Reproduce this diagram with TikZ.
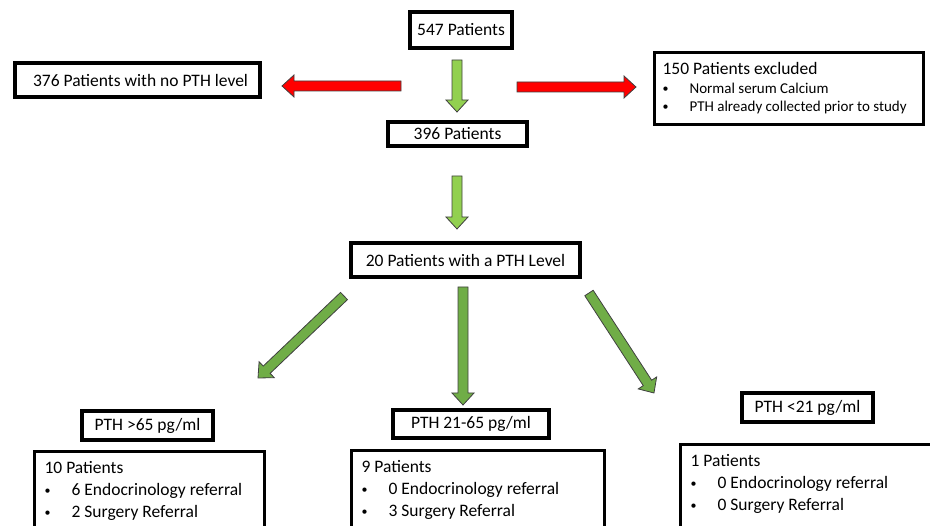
\documentclass[tikz,border=0pt]{standalone}
\usepackage{fontspec}
\setmainfont{Carlito}
\usetikzlibrary{calc}

\definecolor{lightgreen}{RGB}{146,208,80}
\definecolor{midgreen}{RGB}{112,173,71}
\definecolor{brightred}{RGB}{255,0,0}

\tikzset{
  box/.style={draw, line width=3.2pt, inner sep=0pt, font=\fontsize{17.5}{22}\selectfont},
  listbox/.style={box, anchor=north west, inner sep=10pt},
}

\newcommand{\bul}{\makebox[27pt][l]{\raisebox{1pt}{\fontsize{12}{12}\selectfont\textbullet}}}
\newcommand{\blockarrow}[3]{%
  \coordinate (tiphead) at ($(#2)!12pt!(#1)$);
  \filldraw[fill=#3, draw=black!75, line width=0.8pt]
    ($(#1)!5pt!90:(#2)$) -- ($(tiphead)!5pt!90:(#2)$) -- ($(tiphead)!11pt!90:(#2)$) -- (#2)
    -- ($(tiphead)!11pt!-90:(#2)$) -- ($(tiphead)!5pt!-90:(#2)$) -- ($(#1)!5pt!-90:(#2)$) -- cycle;
}

\begin{document}
\begin{tikzpicture}[x=1pt,y=-1pt]
        \useasboundingbox (0,0) rectangle (930,526);
        \clip (0,0) rectangle (930,526);
        \coordinate (s1) at (457,60);
        \coordinate (t1) at (457,112);
        \coordinate (s2) at (401,86);
        \coordinate (t2) at (282,86);
        \coordinate (s3) at (517,87);
        \coordinate (t3) at (636,87);
        \coordinate (s4) at (457,176);
        \coordinate (t4) at (457,229);
        \coordinate (s5) at (344,296);
        \coordinate (t5) at (258,378);
        \coordinate (s6) at (463,287);
        \coordinate (t6) at (463,405);
        \coordinate (s7) at (589,293);
        \coordinate (t7) at (654,393);
        \node[box,minimum width=102pt,minimum height=36pt] (start) at (461,30) {547 Patients};
        \node[box,minimum width=245pt,minimum height=34pt] (nopth) at (137.5,80) {\hspace{6pt}376 Patients with no PTH level};
        \node[listbox,inner xsep=8pt] (excluded) at (653,51) {\parbox{253pt}{\raggedright 150 Patients excluded\\
            \fontsize{15}{18.5}\selectfont\bul Normal serum Calcium\\
            \bul PTH already collected prior to study}};
        \node[box,minimum width=139pt,minimum height=24pt] (eligible) at (457.5,134) {396 Patients};
        \node[box,minimum width=229pt,minimum height=34pt] (withpth) at (465.5,260) {20 Patients with a PTH Level};
        \node[box,minimum width=131pt,minimum height=29pt] (high) at (147.5,425.5) {PTH >65 pg/ml};
        \node[box,minimum width=156pt,minimum height=28pt] (normal) at (471,424) {PTH 21-65 pg/ml};
        \node[box,minimum width=131pt,minimum height=29pt] (low) at (807.5,407.5) {PTH <21 pg/ml};
        \node[listbox] (highinfo) at (33,450) {\parbox[t][110pt][t]{210pt}{10 Patients\\
            \bul 6 Endocrinology referral\\ \bul 2 Surgery Referral}};
        \node[listbox] (normalinfo) at (350,449) {\parbox[t][110pt][t]{233pt}{9 Patients\\
            \bul 0 Endocrinology referral\\ \bul 3 Surgery Referral}};
        \node[listbox] (lowinfo) at (679,443) {\parbox[t][110pt][t]{250pt}{1 Patients\\
            \bul 0 Endocrinology referral\\ \bul 0 Surgery Referral}};
        \blockarrow{s1}{t1}{lightgreen}
        \blockarrow{s2}{t2}{brightred}
        \blockarrow{s3}{t3}{brightred}
        \blockarrow{s4}{t4}{lightgreen}
        \blockarrow{s5}{t5}{midgreen}
        \blockarrow{s6}{t6}{midgreen}
        \blockarrow{s7}{t7}{midgreen}
\end{tikzpicture}
\end{document}
